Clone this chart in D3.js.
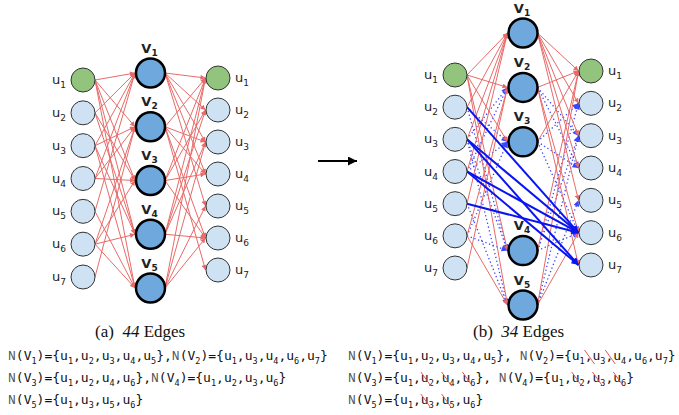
<!DOCTYPE html>
<html>
<head>
<meta charset="utf-8">
<script src="https://cdn.jsdelivr.net/npm/d3@7"></script>
<style>
  body { margin: 0; background: #fff; }
  svg { font-family: "DejaVu Sans", sans-serif; }
</style>
</head>
<body>
<svg id="chart" width="679" height="415"></svg>
<script>
// node ids
const uIds = [1, 2, 3, 4, 5, 6, 7];
const vNames = ["V1", "V2", "V3", "V4", "V5"];

// neighbourhoods N(Vi)
const nV1 = [1, 2, 3, 4, 5];
const nV2 = [1, 3, 4, 6, 7];
const nV3 = [1, 2, 4, 6];
const nV4 = [1, 2, 3, 6];
const nV5 = [1, 3, 5, 6];
const neighbours = [nV1, nV2, nV3, nV4, nV5];

// members struck out in (b)
const cutV1 = [];
const cutV2 = [3, 4];
const cutV3 = [2, 4, 6];
const cutV4 = [2, 3, 6];
const cutV5 = [3, 5];
const removed = [cutV1, cutV2, cutV3, cutV4, cutV5];

// direct u -> u edges added in (b)
const directFrom = [2, 3, 3, 4, 4, 5];
const directTo = [6, 6, 7, 6, 7, 6];

const edgeCounts = ["44", "34"];
const panelTags = ["(a)", "(b)"];
// which sets go on each text line
const setLines = [[0, 1], [2, 3], [4]];

const svg = d3.select("#chart");

const RED = "#e86a68";
const BLUE = "#0a14f0";
const rU = 12, rV = 14.5;

// arrow markers
const defs = svg.append("defs");
function marker(id, color, w, h) {
  defs.append("marker")
    .attr("id", id)
    .attr("viewBox", "0 0 10 10")
    .attr("refX", 10).attr("refY", 5)
    .attr("markerUnits", "userSpaceOnUse")
    .attr("markerWidth", w).attr("markerHeight", h)
    .attr("orient", "auto")
    .append("path")
    .attr("d", "M0,0L10,5L0,10z")
    .attr("fill", color);
}
marker("arRed", RED, 7, 5);
marker("arBlue", BLUE, 9, 7);
marker("arDot", "#3a46ff", 7, 6);
marker("arBlack", "#000", 11, 9);

const panels = [
  { x: [83, 218], uL: [80, 277], uR: [78, 270], vSlots: vNames, vRange: [73, 288],
    compressed: false, capX: 95, textX: 8, sep: "," },
  { x: [455, 591], uL: [75, 268], uR: [71, 265], vSlots: ["V1", "V2", "V3", "", "V4", "V5"], vRange: [33, 305],
    compressed: true, capX: 473, textX: 348, sep: ", " }
];

function subLabel(g, x, y, main, sub, opt) {
  const t = g.append("text")
    .attr("x", x).attr("y", y)
    .attr("text-anchor", opt.anchor || "start")
    .attr("font-size", opt.size)
    .attr("font-weight", opt.bold ? "bold" : "normal")
    .attr("fill", "#222");
  t.append("tspan").text(main);
  t.append("tspan").attr("dy", opt.subDy).attr("font-size", opt.subSize).text(sub);
  return t;
}

panels.forEach((p, pi) => {
  const g = svg.append("g");
  const x = d3.scalePoint().domain(["L", "V", "R"]).range(p.x);
  const yL = d3.scalePoint().domain(uIds).range(p.uL);
  const yR = d3.scalePoint().domain(uIds).range(p.uR);
  const yV = d3.scalePoint().domain(p.vSlots).range(p.vRange);

  // collect edges
  const edges = [];
  vNames.forEach((v, i) => {
    neighbours[i].forEach(u => {
      const kind = p.compressed && removed[i].includes(u) ? "dot" : "red";
      edges.push({ kind, x1: x("L") + rU, y1: yL(u), x2: x("V") - rV - 1, y2: yV(v) });
      edges.push({ kind, x1: x("V") + rV, y1: yV(v), x2: x("R") - rU - 0.5, y2: yR(u) });
    });
  });
  if (p.compressed) {
    directFrom.forEach((a, k) => {
      edges.push({ kind: "blue", x1: x("L") + rU, y1: yL(a), x2: x("R") - rU - 0.5, y2: yR(directTo[k]) });
    });
  }
  const order = { dot: 0, red: 1, blue: 2 };
  edges.sort((a, b) => order[a.kind] - order[b.kind]);

  g.append("g").selectAll("line")
    .data(edges)
    .join("line")
    .attr("x1", d => d.x1).attr("y1", d => d.y1)
    .attr("x2", d => d.x2).attr("y2", d => d.y2)
    .attr("stroke", d => d.kind === "red" ? RED : d.kind === "blue" ? BLUE : "#3a46ff")
    .attr("stroke-width", d => d.kind === "blue" ? 2 : d.kind === "red" ? 1 : 1.3)
    .attr("stroke-dasharray", d => d.kind === "dot" ? "1.3,2.6" : null)
    .attr("marker-end", d => d.kind === "red" ? "url(#arRed)" : d.kind === "blue" ? "url(#arBlue)" : "url(#arDot)");

  // u nodes, both sides
  [["L", yL], ["R", yR]].forEach(([side, ys]) => {
    g.append("g").selectAll("circle")
      .data(uIds)
      .join("circle")
      .attr("cx", x(side)).attr("cy", d => ys(d))
      .attr("r", rU)
      .attr("fill", d => d === 1 ? "#93c47d" : "#cfe2f3")
      .attr("stroke", "#333").attr("stroke-width", 1);
    uIds.forEach(u => {
      subLabel(g, side === "L" ? x(side) - rU - 5 : x(side) + rU + 5, ys(u) + 4, "u", u,
        { anchor: side === "L" ? "end" : "start", size: 13, subSize: 9, subDy: 4 });
    });
  });

  // V nodes
  g.append("g").selectAll("circle")
    .data(vNames)
    .join("circle")
    .attr("cx", x("V")).attr("cy", d => yV(d))
    .attr("r", rV)
    .attr("fill", "#6fa8dc")
    .attr("stroke", "#000").attr("stroke-width", 2.5);
  vNames.forEach(v => {
    subLabel(g, x("V") - 1, yV(v) - rV - 6, "V", v.slice(1),
      { anchor: "middle", size: 13, subSize: 9, subDy: 3, bold: true });
  });

  // caption
  const cap = g.append("text")
    .attr("x", p.capX).attr("y", 337)
    .style("font-family", "'Liberation Serif', 'Times New Roman', serif")
    .attr("font-size", 17)
    .attr("fill", "#111")
    .style("white-space", "pre");
  cap.append("tspan").text(panelTags[pi] + "  ");
  cap.append("tspan").attr("font-style", "italic").text(edgeCounts[pi]);
  cap.append("tspan").text(" Edges");

  // neighbourhood text lines
  setLines.forEach((line, li) => {
    const base = 360 + li * 22;
    const t = g.append("text")
      .attr("x", p.textX).attr("y", base)
      .style("font-family", "'DejaVu Sans Mono', monospace")
      .attr("font-size", 13)
      .attr("fill", "#111")
      .style("white-space", "pre");
    let dy = 0;
    const strikes = [];
    function put(str, sub) {
      const s = t.append("tspan").text(str);
      if (sub) { s.attr("dy", 4).attr("font-size", 8.5); dy = -4; }
      else if (dy) { s.attr("dy", dy); dy = 0; }
      return s;
    }
    line.forEach((vi, k) => {
      if (k > 0) put(p.sep);
      put("N").style("font-family", "'Liberation Mono', 'Courier New', monospace").attr("fill", "#555");
      put("(V");
      put(String(vi + 1), true);
      put(")={");
      neighbours[vi].forEach((u, j) => {
        if (j > 0) put(",");
        const m = put("u");
        put(String(u), true);
        if (p.compressed && removed[vi].includes(u)) strikes.push({ node: m.node(), shift: vi === 1 ? -8 : 0 });
      });
      put("}");
    });
    strikes.forEach(s => {
      const bx = s.node.getBBox().x + s.shift;
      g.append("line")
        .attr("x1", bx).attr("y1", base - 10)
        .attr("x2", bx + 10).attr("y2", base + 4)
        .attr("stroke", "#e05555").attr("stroke-width", 1);
    });
  });
});

// transformation arrow between the panels
svg.append("line")
  .attr("x1", 318).attr("y1", 161)
  .attr("x2", 357).attr("y2", 161)
  .attr("stroke", "#000").attr("stroke-width", 2)
  .attr("marker-end", "url(#arBlack)");
</script>
</body>
</html>
